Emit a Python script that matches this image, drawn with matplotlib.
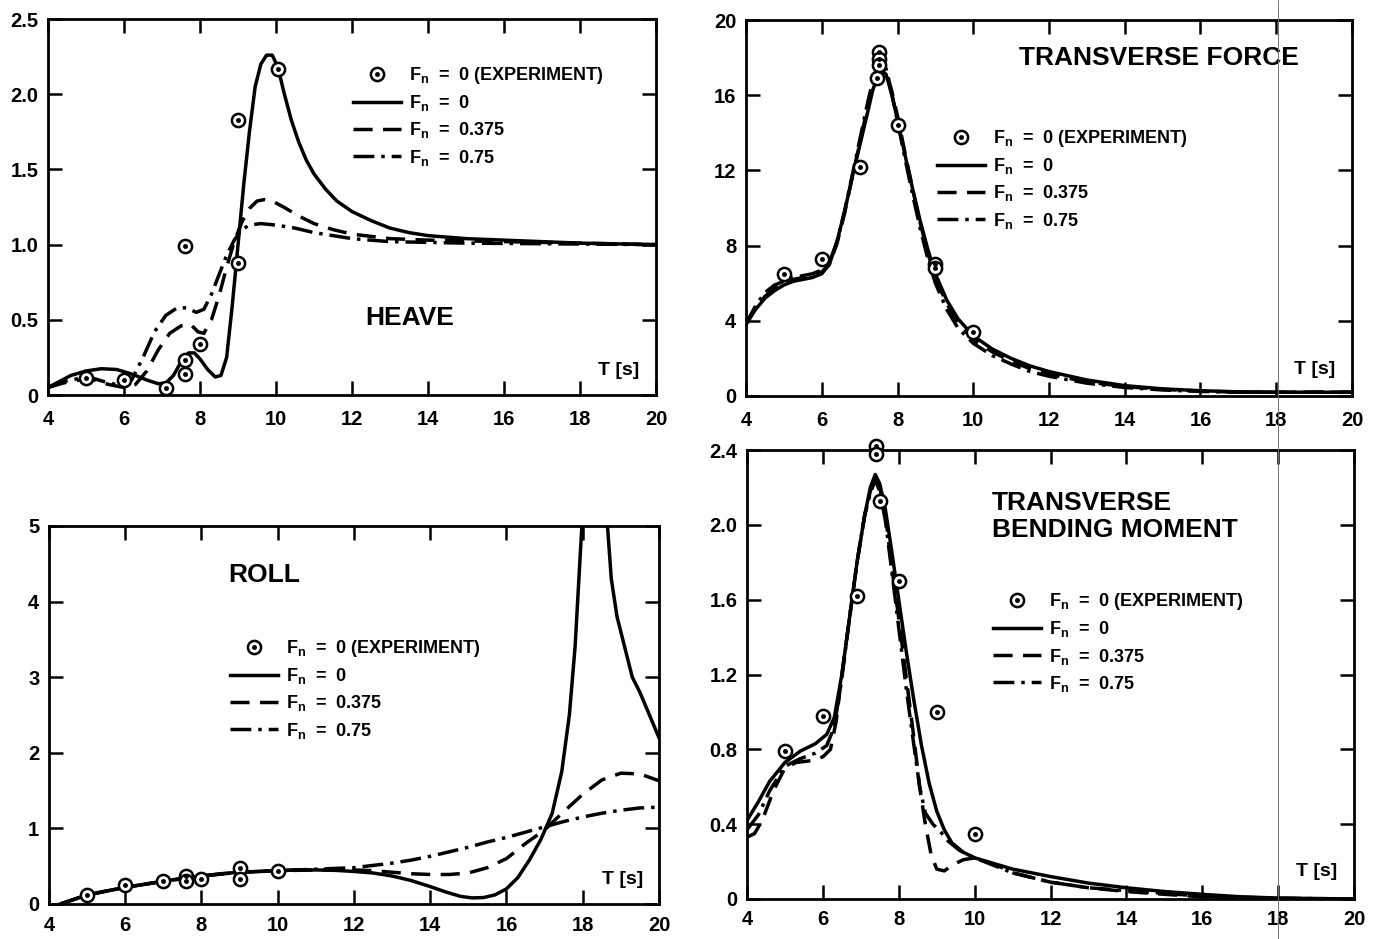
import matplotlib
matplotlib.use("Agg")
import matplotlib.pyplot as plt
from matplotlib.lines import Line2D
from matplotlib.legend_handler import HandlerTuple

plt.rcParams['font.family'] = ['Liberation Sans', 'DejaVu Sans']
plt.rcParams['font.weight'] = 'bold'
plt.rcParams['mathtext.fontset'] = 'custom'
plt.rcParams['mathtext.rm'] = 'Liberation Sans:bold'
plt.rcParams['mathtext.it'] = 'Liberation Sans:bold'
plt.rcParams['mathtext.bf'] = 'Liberation Sans:bold'

# ---------------- HEAVE ----------------
heave_exp_T = [5.0, 6.0, 7.1, 7.6, 7.6, 7.6, 8.0, 9.0, 9.0, 10.05]
heave_exp_v = [0.11, 0.10, 0.05, 0.99, 0.23, 0.14, 0.34, 1.83, 0.88, 2.17]
heave_T0 = [4.0, 4.3, 4.6, 5.0, 5.4, 5.8, 6.2, 6.6, 6.9, 7.1, 7.3, 7.5, 7.7, 7.85, 8.0, 8.2, 8.4, 8.55,
            8.7, 8.85, 9.0, 9.15, 9.3, 9.45, 9.6, 9.75, 9.9, 10.05, 10.2, 10.4, 10.6, 10.8, 11.0, 11.3,
            11.6, 12.0, 12.5, 13.0, 13.5, 14.0, 15.0, 16.0, 18.0, 20.0]
heave_v0 = [0.05, 0.09, 0.13, 0.16, 0.175, 0.17, 0.14, 0.1, 0.075, 0.08, 0.13, 0.22, 0.28, 0.28, 0.24, 0.17, 0.12, 0.13,
            0.25, 0.6, 1.0, 1.4, 1.75, 2.05, 2.2, 2.26, 2.26, 2.18, 2.02, 1.83, 1.68, 1.56, 1.47, 1.37,
            1.29, 1.22, 1.16, 1.11, 1.08, 1.06, 1.04, 1.03, 1.01, 1.0]
heave_T1 = [4.0, 4.4, 4.8, 5.2, 5.6, 6.0, 6.3, 6.6, 6.9, 7.2, 7.5, 7.75, 7.95, 8.1, 8.3, 8.5, 8.7, 8.9,
            9.1, 9.3, 9.5, 9.7, 9.9, 10.2, 10.6, 11.0, 11.5, 12.0, 13.0, 14.0, 16.0, 18.0, 20.0]
heave_v1 = [0.05, 0.08, 0.1, 0.1, 0.07, 0.05, 0.07, 0.16, 0.3, 0.41, 0.46, 0.47, 0.42, 0.41, 0.5, 0.66, 0.85, 1.02,
            1.15, 1.24, 1.29, 1.3, 1.29, 1.25, 1.19, 1.14, 1.1, 1.07, 1.04, 1.03, 1.02, 1.01, 1.0]
heave_T2 = [4.0, 4.4, 4.8, 5.2, 5.6, 6.0, 6.2, 6.5, 6.8, 7.1, 7.4, 7.65, 7.9, 8.1, 8.3, 8.5, 8.7, 8.9,
            9.1, 9.3, 9.6, 10.0, 10.5, 11.0, 11.5, 12.0, 13.0, 15.0, 20.0]
heave_v2 = [0.05, 0.09, 0.11, 0.11, 0.08, 0.06, 0.1, 0.25, 0.42, 0.53, 0.58, 0.58, 0.55, 0.57, 0.67, 0.8, 0.93, 1.03,
            1.1, 1.13, 1.14, 1.13, 1.11, 1.08, 1.06, 1.04, 1.02, 1.01, 1.0]

# ---------------- TRANSVERSE FORCE ----------------
force_exp_T = [5.0, 6.0, 7.0, 7.5, 7.5, 7.5, 7.45, 8.0, 9.0, 9.0, 10.0]
force_exp_v = [6.5, 7.3, 12.2, 18.3, 17.9, 17.6, 16.9, 14.4, 7.0, 6.8, 3.4]
force_T = [4.0, 4.25, 4.5, 4.75, 5.0, 5.25, 5.5, 5.75, 6.0, 6.2, 6.4, 6.6, 6.8, 7.0, 7.2, 7.35, 7.5, 7.6,
           7.7, 7.85, 8.0, 8.2, 8.4, 8.6, 8.8, 9.0, 9.3, 9.6, 10.0, 10.5, 11.0, 11.5, 12.0, 13.0, 14.0,
           15.0, 16.0, 17.0, 18.0, 20.0]
force_v0 = [3.8, 4.6, 5.2, 5.6, 5.9, 6.1, 6.2, 6.3, 6.5, 7.0, 8.2, 9.8, 11.6, 13.3, 15.0, 16.3, 17.1, 17.3,
            17.1, 16.0, 14.7, 12.8, 11.0, 9.3, 7.8, 6.5, 5.1, 4.1, 3.2, 2.5, 2.0, 1.6, 1.3, 0.85, 0.55,
            0.38, 0.28, 0.22, 0.2, 0.2]
force_v1 = [3.9, 4.7, 5.3, 5.7, 6.0, 6.2, 6.3, 6.4, 6.6, 7.0, 8.1, 9.7, 11.6, 13.4, 15.3, 16.6, 17.4, 17.5,
            17.3, 16.2, 14.9, 12.9, 11.0, 9.2, 7.6, 6.3, 4.9, 3.9, 3.0, 2.35, 1.85, 1.45, 1.15, 0.75, 0.5,
            0.35, 0.26, 0.21, 0.2, 0.2]
force_v2 = [3.8, 4.8, 5.5, 5.9, 6.1, 6.3, 6.4, 6.5, 6.7, 7.1, 8.2, 9.8, 11.7, 13.6, 15.5, 16.8, 17.6, 17.7,
            17.4, 16.1, 14.6, 12.6, 10.7, 8.9, 7.3, 6.0, 4.6, 3.6, 2.8, 2.15, 1.7, 1.3, 1.05, 0.68, 0.45,
            0.32, 0.24, 0.2, 0.2, 0.2]

# ---------------- ROLL ----------------
roll_exp_T = [5.0, 6.0, 7.0, 7.6, 7.6, 8.0, 9.0, 9.0, 10.0]
roll_exp_v = [0.12, 0.25, 0.3, 0.37, 0.3, 0.33, 0.48, 0.33, 0.43]
roll_T0 = [4.3, 4.6, 5.0, 5.5, 6.0, 6.5, 7.0, 7.5, 8.0, 8.5, 9.0, 9.5, 10.0, 10.5, 11.0, 11.5, 12.0, 12.5,
           13.0, 13.5, 14.0, 14.4, 14.8, 15.1, 15.4, 15.7, 16.0, 16.3, 16.6, 16.9, 17.2, 17.45, 17.65,
           17.8, 17.9, 18.0, 18.1, 18.3, 18.55, 18.65, 18.75, 18.9, 19.1, 19.3, 19.5, 19.75, 20.0]
roll_v0 = [0.0, 0.05, 0.12, 0.17, 0.22, 0.26, 0.3, 0.34, 0.37, 0.4, 0.42, 0.43, 0.44, 0.45, 0.45, 0.445, 0.43, 0.41,
           0.37, 0.31, 0.23, 0.16, 0.1, 0.08, 0.085, 0.12, 0.2, 0.35, 0.58, 0.85, 1.2, 1.75, 2.5,
           3.4, 4.3, 5.2, 6.5, 12.0, 6.0, 5.0, 4.3, 3.8, 3.4, 3.0, 2.8, 2.5, 2.2]
roll_T1 = [4.3, 5.0, 6.0, 7.0, 8.0, 9.0, 10.0, 11.0, 12.0, 12.5, 13.0, 13.5, 14.0, 14.5, 15.0, 15.5, 16.0,
           16.5, 17.0, 17.5, 18.0, 18.5, 19.0, 19.5, 20.0]
roll_v1 = [0.0, 0.12, 0.22, 0.3, 0.37, 0.42, 0.44, 0.45, 0.45, 0.44, 0.42, 0.4, 0.39, 0.39, 0.41, 0.48, 0.6,
           0.8, 0.98, 1.22, 1.45, 1.64, 1.73, 1.72, 1.63]
roll_T2 = [4.3, 5.0, 6.0, 7.0, 8.0, 9.0, 10.0, 11.0, 12.0, 12.5, 13.0, 13.5, 14.0, 14.5, 15.0, 15.5, 16.0,
           16.5, 17.0, 17.5, 18.0, 18.5, 19.0, 19.5, 20.0]
roll_v2 = [0.0, 0.12, 0.22, 0.3, 0.37, 0.42, 0.44, 0.46, 0.48, 0.51, 0.54, 0.58, 0.63, 0.69, 0.75, 0.82, 0.88,
           0.95, 1.02, 1.09, 1.15, 1.2, 1.24, 1.27, 1.28]

# ---------------- TRANSVERSE BENDING MOMENT ----------------
bend_exp_T = [5.0, 6.0, 6.9, 7.4, 7.4, 7.5, 8.0, 9.0, 10.0]
bend_exp_v = [0.79, 0.98, 1.62, 2.42, 2.38, 2.13, 1.7, 1.0, 0.35]
bend_T0 = [4.0, 4.3, 4.6, 5.0, 5.4, 5.8, 6.1, 6.3, 6.5, 6.7, 6.9, 7.1, 7.25, 7.38, 7.5, 7.65, 7.8, 8.0,
           8.2, 8.4, 8.6, 8.8, 9.0, 9.2, 9.4, 9.7, 10.0, 10.5, 11.0, 11.5, 12.0, 13.0, 14.0, 15.0, 16.0,
           17.0, 18.0, 20.0]
bend_v0 = [0.42, 0.52, 0.63, 0.73, 0.79, 0.83, 0.88, 0.97, 1.2, 1.5, 1.8, 2.05, 2.2, 2.27, 2.22, 2.08, 1.88, 1.6,
           1.32, 1.06, 0.82, 0.62, 0.47, 0.37, 0.3, 0.25, 0.22, 0.19, 0.16, 0.14, 0.12, 0.085, 0.06, 0.04, 0.025,
           0.012, 0.005, 0.0]
bend_T1 = [4.0, 4.2, 4.4, 4.7, 5.0, 5.3, 5.7, 6.0, 6.2, 6.35, 6.5, 6.7, 6.9, 7.1, 7.25, 7.38, 7.5, 7.65, 7.8,
           8.0, 8.2, 8.4, 8.55, 8.7, 8.85, 9.0, 9.2, 9.4, 9.7, 10.0, 10.3, 10.7, 11.0, 12.0, 13.0, 14.0,
           15.0, 16.0, 18.0, 20.0]
bend_v1 = [0.33, 0.35, 0.42, 0.58, 0.7, 0.73, 0.74, 0.76, 0.8, 0.95, 1.2, 1.5, 1.8, 2.05, 2.18, 2.25, 2.2, 2.05, 1.8,
           1.5, 1.18, 0.86, 0.6, 0.4, 0.24, 0.16, 0.15, 0.18, 0.21, 0.22, 0.2, 0.17, 0.14, 0.09, 0.06, 0.04,
           0.025, 0.012, 0.003, 0.0]
bend_T2 = [4.0, 4.3, 4.6, 5.0, 5.4, 5.8, 6.1, 6.3, 6.5, 6.7, 6.9, 7.1, 7.25, 7.38, 7.5, 7.65, 7.8, 8.0, 8.2,
           8.4, 8.55, 8.7, 8.9, 9.1, 9.3, 9.6, 10.0, 10.5, 11.0, 12.0, 13.0, 14.0, 15.0, 16.0, 18.0, 20.0]
bend_v2 = [0.37, 0.45, 0.58, 0.71, 0.75, 0.78, 0.82, 0.92, 1.18, 1.5, 1.8, 2.05, 2.17, 2.24, 2.18, 2.02, 1.78, 1.45, 1.12,
           0.82, 0.6, 0.46, 0.4, 0.36, 0.31, 0.26, 0.22, 0.18, 0.14, 0.09, 0.06, 0.045, 0.03, 0.015, 0.004, 0.0]

labels = [r'F$_n$  =  0 (EXPERIMENT)', r'F$_n$  =  0', r'F$_n$  =  0.375', r'F$_n$  =  0.75']
x_ticks = [4, 6, 8, 10, 12, 14, 16, 18, 20]

LW = 2.5
DASH = (5.5, 3)
DASHDOT = (6, 2, 1, 2)


def draw_panel(ax, exp_T, exp_v, curves, ylim, yticks, yticklabels, legend_xy, xpad):
    for T, v, style in curves:
        if style == 'solid':
            ax.plot(T, v, color='black', lw=LW, solid_joinstyle='round', zorder=3)
        elif style == 'dashed':
            ax.plot(T, v, color='black', lw=LW, linestyle=(0, DASH), zorder=3)
        else:
            ax.plot(T, v, color='black', lw=LW, linestyle=(0, DASHDOT), zorder=3)
    # experiment points: open circle with a dot in the middle
    ax.plot(exp_T, exp_v, 'o', ms=9.5, mfc='white', mec='black', mew=1.8, zorder=4, clip_on=False)
    ax.plot(exp_T, exp_v, 'o', ms=2.5, color='black', zorder=5, clip_on=False)

    ax.set_xlim(4, 20)
    ax.set_ylim(*ylim)
    ax.set_xticks(x_ticks)
    ax.set_xticklabels([str(t) for t in x_ticks])
    ax.set_yticks(yticks)
    ax.set_yticklabels(yticklabels)
    ax.tick_params(direction='in', length=10, width=1.8, top=True, right=True, labelsize=14.5)
    ax.tick_params(axis='x', pad=xpad)
    ax.tick_params(axis='y', pad=7)
    for s in ax.spines.values():
        s.set_linewidth(2.0)

    mk_o = Line2D([], [], marker='o', ms=9.5, mfc='white', mec='black', mew=1.8, ls='none')
    mk_d = Line2D([], [], marker='o', ms=2.5, color='black', ls='none')
    h1 = Line2D([], [], color='black', lw=LW)
    h2 = Line2D([], [], color='black', lw=LW, linestyle=(0, DASH))
    h3 = Line2D([], [], color='black', lw=LW, linestyle=(0, DASHDOT))
    ax.legend([(mk_o, mk_d), h1, h2, h3], labels, handler_map={tuple: HandlerTuple(ndivide=1)},
              loc='upper left', bbox_to_anchor=legend_xy, frameon=False, fontsize=13,
              handlelength=2.65, handletextpad=0.45, labelspacing=0.4, borderpad=0, borderaxespad=0)


fig = plt.figure(figsize=(13.8, 9.39), dpi=100)

ax1 = fig.add_axes([0.0348, 0.5793, 0.4406, 0.4004])
draw_panel(ax1, heave_exp_T, heave_exp_v,
           [(heave_T0, heave_v0, 'solid'), (heave_T1, heave_v1, 'dashed'), (heave_T2, heave_v2, 'dashdot')],
           (0, 2.5), [0, 0.5, 1.0, 1.5, 2.0, 2.5], ['0', '0.5', '1.0', '1.5', '2.0', '2.5'],
           (0.502, 0.878), 11)
ax1.text(12.35, 0.51, 'HEAVE', fontsize=19, va='center', ha='left')
ax1.text(19.55, 0.16, 'T [s]', fontsize=14, va='center', ha='right')

ax2 = fig.add_axes([0.5406, 0.5783, 0.4391, 0.4004])
draw_panel(ax2, force_exp_T, force_exp_v,
           [(force_T, force_v0, 'solid'), (force_T, force_v1, 'dashed'), (force_T, force_v2, 'dashdot')],
           (0, 20), [0, 4, 8, 12, 16, 20], ['0', '4', '8', '12', '16', '20'],
           (0.315, 0.713), 11)
ax2.text(11.2, 18.0, 'TRANSVERSE FORCE', fontsize=19, va='center', ha='left')
ax2.text(19.55, 1.4, 'T [s]', fontsize=14, va='center', ha='right')

ax3 = fig.add_axes([0.0355, 0.0373, 0.442, 0.4026])
draw_panel(ax3, roll_exp_T, roll_exp_v,
           [(roll_T0, roll_v0, 'solid'), (roll_T1, roll_v1, 'dashed'), (roll_T2, roll_v2, 'dashdot')],
           (0, 5), [0, 1, 2, 3, 4, 5], ['0', '1', '2', '3', '4', '5'],
           (0.297, 0.704), 9)
ax3.text(8.7, 4.35, 'ROLL', fontsize=19, va='center', ha='left')
ax3.text(19.6, 0.32, 'T [s]', fontsize=14, va='center', ha='right')

ax4 = fig.add_axes([0.5413, 0.0426, 0.4399, 0.478])
draw_panel(ax4, bend_exp_T, bend_exp_v,
           [(bend_T0, bend_v0, 'solid'), (bend_T1, bend_v1, 'dashed'), (bend_T2, bend_v2, 'dashdot')],
           (0, 2.4), [0, 0.4, 0.8, 1.2, 1.6, 2.0, 2.4], ['0', '0.4', '0.8', '1.2', '1.6', '2.0', '2.4'],
           (0.405, 0.686), 8)
ax4.text(10.46, 2.045, 'TRANSVERSE\nBENDING MOMENT', fontsize=19, va='center', ha='left', linespacing=1.15)
ax4.text(19.55, 0.145, 'T [s]', fontsize=14, va='center', ha='right')

# faint scan line running down the right half of the page
fig.add_artist(Line2D([1278 / 1380, 1278 / 1380], [0, 1], color='0.45', lw=0.7))

fig.savefig('out.png', dpi=100)
